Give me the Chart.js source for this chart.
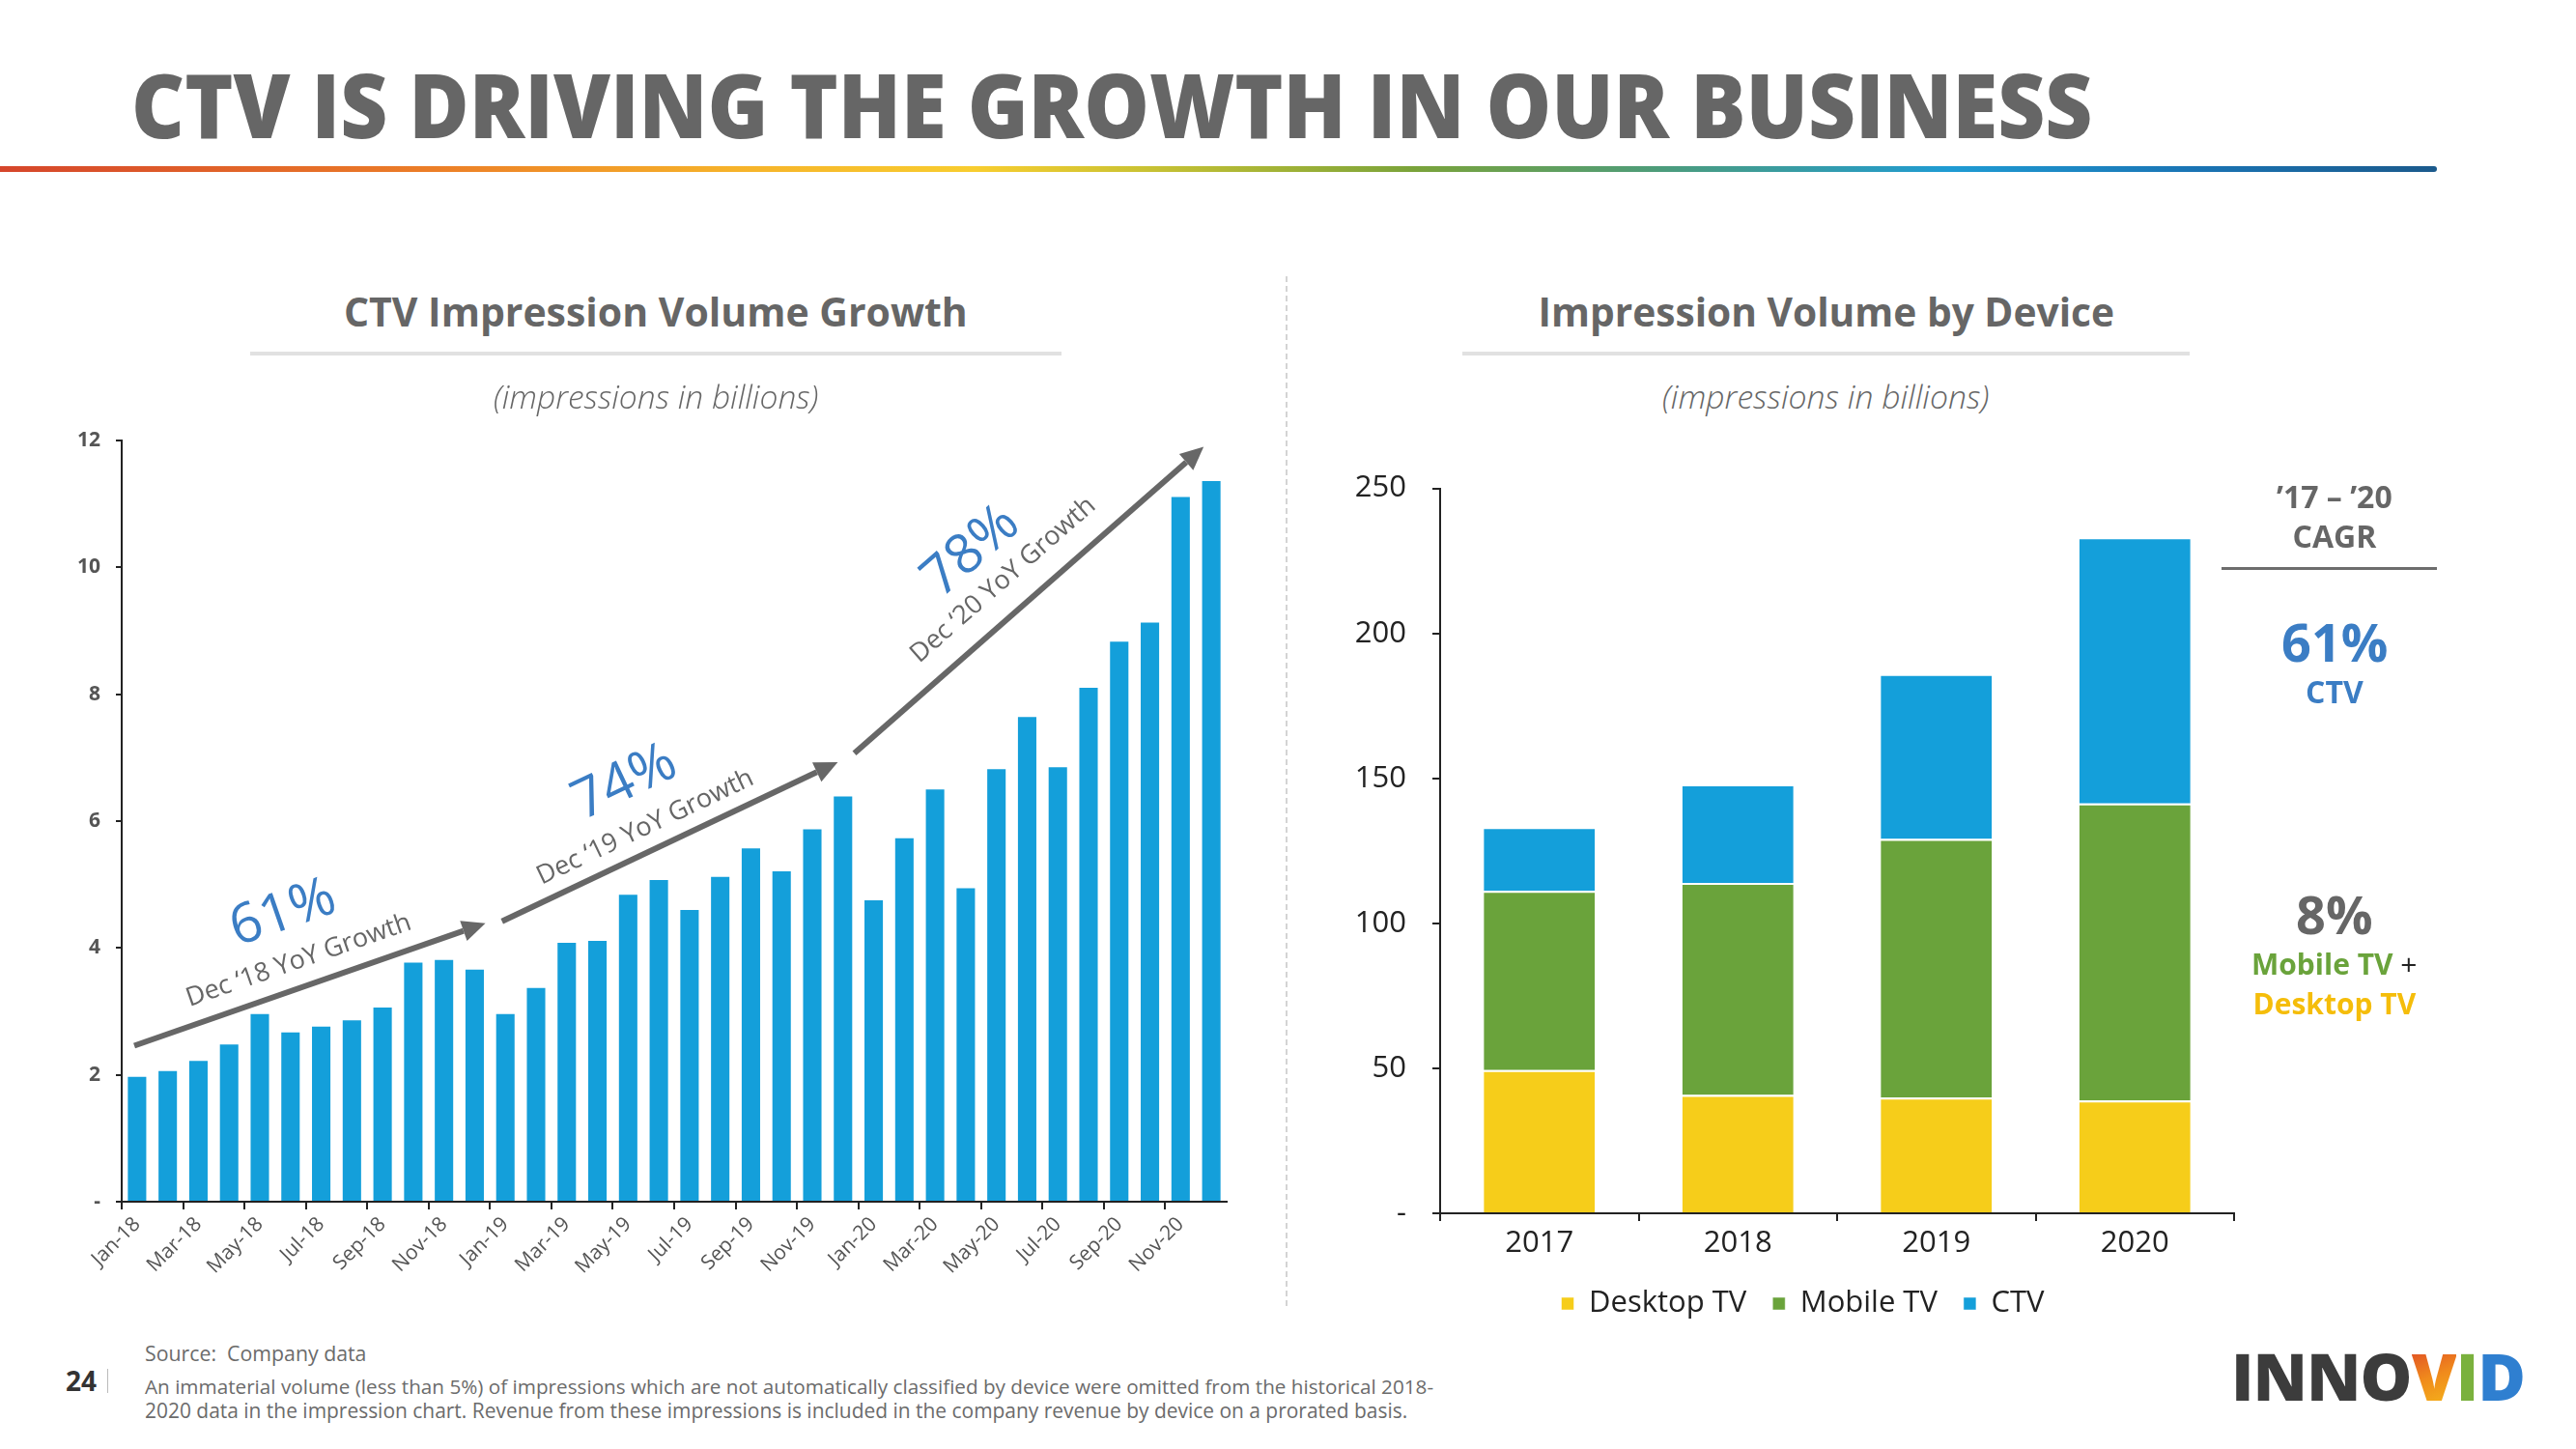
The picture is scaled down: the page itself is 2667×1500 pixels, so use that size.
<!DOCTYPE html>
<html>
<head>
<meta charset="utf-8">
<script src="https://cdn.jsdelivr.net/npm/chart.js@4.4.1/dist/chart.umd.min.js"></script>
<style>
  html, body { margin: 0; padding: 0; background: #fff; }
  body { width: 2667px; height: 1500px; position: relative; overflow: hidden; font-family: 'Open Sans', sans-serif; color: #666; }
  .abs { position: absolute; white-space: nowrap; line-height: 1.2; display: inline-block; }
  #faixa { position: absolute; left: 0; top: 172px; width: 2523px; height: 6px; border-radius: 0 3px 3px 0;
    background: linear-gradient(90deg, #d5452b 0%, #ec7f27 18%, #f6b22a 30%, #f8cd2f 40%, #c9c233 47%, #7aa33a 58%, #4d9c7a 68%, #1f9bd3 80%, #1a74b4 90%, #1b5a8c 100%); }
  .linha-cab { position: absolute; height: 4px; background: #e1e1e1; }
  #divisor { position: absolute; left: 1331px; top: 286px; height: 1066px; border-left: 2px dashed #d4d4d4; }
  #linha-cagr { position: absolute; left: 2300px; top: 587px; width: 223px; height: 3px; background: #6d6d6d; }
  #sep-pagina { position: absolute; left: 111px; top: 1417px; width: 1px; height: 25px; background: #bbb; }
  canvas { position: absolute; }
</style>
</head>
<body>
<div id="faixa"></div>
<div class="linha-cab" style="left:259px; top:364px; width:840px;"></div>
<div class="linha-cab" style="left:1514px; top:364px; width:753px;"></div>
<div id="divisor"></div>
<div id="linha-cagr"></div>
<div id="sep-pagina"></div>
<canvas id="grafico-ctv" width="1260" height="940" style="left:40px; top:420px; width:1260px; height:940px;"></canvas>
<canvas id="grafico-dispositivo" width="1000" height="915" style="left:1400px; top:460px; width:1000px; height:915px;"></canvas>
<script>
// === Dados ===
const meses = ['Jan-18', 'Feb-18', 'Mar-18', 'Apr-18', 'May-18', 'Jun-18', 'Jul-18', 'Aug-18', 'Sep-18', 'Oct-18', 'Nov-18', 'Dec-18',
  'Jan-19', 'Feb-19', 'Mar-19', 'Apr-19', 'May-19', 'Jun-19', 'Jul-19', 'Aug-19', 'Sep-19', 'Oct-19', 'Nov-19', 'Dec-19',
  'Jan-20', 'Feb-20', 'Mar-20', 'Apr-20', 'May-20', 'Jun-20', 'Jul-20', 'Aug-20', 'Sep-20', 'Oct-20', 'Nov-20', 'Dec-20'];
const impressoesCtv = [1.97, 2.06, 2.22, 2.48, 2.96, 2.67, 2.76, 2.86, 3.06, 3.77, 3.81, 3.66,
  2.96, 3.37, 4.08, 4.11, 4.84, 5.07, 4.60, 5.12, 5.57, 5.21, 5.87, 6.39,
  4.75, 5.73, 6.50, 4.94, 6.82, 7.64, 6.85, 8.10, 8.83, 9.13, 11.11, 11.36];
const ticksCtv = [0, 2, 4, 6, 8, 10, 12];

const anos = ['2017', '2018', '2019', '2020'];
const desktopTv = [49.4, 40.8, 39.9, 38.9];
const mobileTv = [61.8, 73.1, 89.2, 102.4];
const ctvDispositivo = [22.0, 34.0, 56.9, 91.8];
const ticksDispositivo = [0, 50, 100, 150, 200, 250];

const crescimentoPct = ['61%', '74%', '78%'];
const crescimentoTxt = ['Dec \u201818 YoY Growth', 'Dec \u201819 YoY Growth', 'Dec \u201820 YoY Growth'];

// posicao das setas e textos (em unidades do grafico: indice do mes, bilhoes)
const setas = [
  { de: [-0.09, 2.46], ate: [11.35, 4.39], pct: [4.76, 4.54], txt: [5.27, 3.80] },
  { de: [11.89, 4.42], ate: [22.83, 6.93], pct: [15.89, 6.60], txt: [16.56, 5.90] },
  { de: [23.37, 7.07], ate: [34.75, 11.90], pct: [27.18, 10.25], txt: [28.22, 9.80] }
];

const FONTE = "'Open Sans', sans-serif";
Chart.defaults.font.family = FONTE;

// === Textos da pagina ===
function colocarTexto(html, o) {
  const el = document.createElement('span');
  el.className = 'abs';
  el.innerHTML = html;
  Object.assign(el.style, o.estilo || {});
  document.body.appendChild(el);
  if (o.largura) {
    const fs = parseFloat(getComputedStyle(el).fontSize);
    el.style.fontSize = (fs * o.largura / el.offsetWidth) + 'px';
  }
  if (o.esticar) {
    el.style.transformOrigin = 'left center';
    el.style.transform = 'scaleX(' + (o.esticar / el.offsetWidth) + ')';
  }
  const w = el.offsetWidth, h = el.offsetHeight;
  el.style.left = (o.cx !== undefined ? o.cx - w / 2 : o.x) + 'px';
  el.style.top = (o.cy - h / 2) + 'px';
  return el;
}

colocarTexto('CTV IS DRIVING THE GROWTH IN OUR BUSINESS', { x: 136, cy: 108, esticar: 2030,
  estilo: { fontSize: '92px', fontWeight: '800', color: '#666', lineHeight: '1.2' } });

colocarTexto('CTV Impression Volume Growth', { cx: 679, cy: 322, largura: 646, estilo: { fontSize: '42px', fontWeight: '700', color: '#666' } });
colocarTexto('Impression Volume by Device', { cx: 1891, cy: 322, largura: 597, estilo: { fontSize: '42px', fontWeight: '700', color: '#666' } });
colocarTexto('(impressions in billions)', { cx: 679, cy: 410, largura: 337, estilo: { fontSize: '30px', fontStyle: 'italic', fontWeight: '300', color: '#666' } });
colocarTexto('(impressions in billions)', { cx: 1890, cy: 410, largura: 339, estilo: { fontSize: '30px', fontStyle: 'italic', fontWeight: '300', color: '#666' } });

// bloco CAGR
const cagrX = 2417;
colocarTexto('\u201917 \u2013 \u201920', { cx: cagrX, cy: 514, estilo: { fontSize: '32px', fontWeight: '700', color: '#666' } });
colocarTexto('CAGR', { cx: cagrX, cy: 555, estilo: { fontSize: '32px', fontWeight: '700', color: '#666' } });
colocarTexto('61%', { cx: cagrX, cy: 664, estilo: { fontSize: '54px', fontWeight: '700', color: '#3b7dc4' } });
colocarTexto('CTV', { cx: cagrX, cy: 716, estilo: { fontSize: '32px', fontWeight: '700', color: '#3b7dc4' } });
colocarTexto('8%', { cx: cagrX, cy: 946, estilo: { fontSize: '54px', fontWeight: '700', color: '#666' } });
colocarTexto('<span style="color:#6aa33b;font-weight:700">Mobile TV</span> <span style="color:#222">+</span>', { cx: cagrX, cy: 998, estilo: { fontSize: '30px' } });
colocarTexto('Desktop TV', { cx: cagrX, cy: 1039, estilo: { fontSize: '30px', fontWeight: '700', color: '#f5bd0a' } });

// rodape
colocarTexto('24', { x: 68, cy: 1430, estilo: { fontSize: '28px', fontWeight: '700', color: '#333' } });
colocarTexto('Source:&nbsp; Company data', { x: 150, cy: 1401, largura: 229, estilo: { fontSize: '20px', color: '#6b6b6b' } });
colocarTexto('An immaterial volume (less than 5%) of impressions which are not automatically classified by device were omitted from the historical 2018-',
  { x: 150, cy: 1435, largura: 1335, estilo: { fontSize: '20px', color: '#6b6b6b' } });
colocarTexto('2020 data in the impression chart. Revenue from these impressions is included in the company revenue by device on a prorated basis.',
  { x: 150, cy: 1460, largura: 1308, estilo: { fontSize: '20px', color: '#6b6b6b' } });

// logo
colocarTexto('<span style="color:#3c3c3c">INNO</span><span style="background:linear-gradient(160deg,#d8312a 0%,#f08a1c 50%,#f7c61a 100%);-webkit-background-clip:text;background-clip:text;color:transparent">V</span><span style="color:#7ab13d">I</span><span style="color:#2f7fd0">D</span>',
  { x: 2310, cy: 1424, largura: 304, estilo: { fontSize: '66px', fontWeight: '800', letterSpacing: '-1px' } });

// === Setas de crescimento ===
function textoGirado(ctx, texto, x, y, ang, tamanho, alvo, peso, cor) {
  ctx.save();
  ctx.font = peso + ' ' + tamanho + 'px ' + FONTE;
  const w = ctx.measureText(texto).width;
  ctx.font = peso + ' ' + (tamanho * alvo / w) + 'px ' + FONTE;
  ctx.translate(x, y);
  ctx.rotate(ang);
  ctx.fillStyle = cor;
  ctx.textAlign = 'center';
  ctx.textBaseline = 'middle';
  ctx.fillText(texto, 0, 0);
  ctx.restore();
}

const setasCrescimento = {
  id: 'setasCrescimento',
  afterDatasetsDraw(chart) {
    const { ctx, scales: { x, y } } = chart;
    setas.forEach((s, i) => {
      const x0 = x.getPixelForValue(s.de[0]), y0 = y.getPixelForValue(s.de[1]);
      const x1 = x.getPixelForValue(s.ate[0]), y1 = y.getPixelForValue(s.ate[1]);
      const ang = Math.atan2(y1 - y0, x1 - x0);
      const cab = 24, larg = 11;
      const bx = x1 - cab * Math.cos(ang), by = y1 - cab * Math.sin(ang);
      ctx.save();
      ctx.strokeStyle = '#676767';
      ctx.fillStyle = '#676767';
      ctx.lineWidth = 6;
      ctx.beginPath();
      ctx.moveTo(x0, y0);
      ctx.lineTo(bx, by);
      ctx.stroke();
      ctx.beginPath();
      ctx.moveTo(x1, y1);
      ctx.lineTo(bx + larg * Math.sin(ang), by - larg * Math.cos(ang));
      ctx.lineTo(bx - larg * Math.sin(ang), by + larg * Math.cos(ang));
      ctx.closePath();
      ctx.fill();
      ctx.restore();

      textoGirado(ctx, crescimentoPct[i], x.getPixelForValue(s.pct[0]), y.getPixelForValue(s.pct[1]), ang, 54, 112, '400', '#3b7dc4');
      textoGirado(ctx, crescimentoTxt[i], x.getPixelForValue(s.txt[0]), y.getPixelForValue(s.txt[1]), ang, 25, 245, '400', '#666');
    });
  }
};

// legenda um pouco deslocada para a direita, como no slide
const deslocaLegenda = {
  id: 'deslocaLegenda',
  afterLayout(chart) {
    chart.legend.left += 10;
    chart.legend.right += 10;
  }
};

// === Grafico CTV mensal ===
new Chart(document.getElementById('grafico-ctv'), {
  type: 'bar',
  data: {
    labels: meses,
    datasets: [{ data: impressoesCtv, backgroundColor: '#149fda', barPercentage: 0.6, categoryPercentage: 1 }]
  },
  options: {
    responsive: false,
    animation: false,
    layout: { padding: { top: 36, right: 30, left: 0, bottom: 0 } },
    plugins: { legend: { display: false }, tooltip: { enabled: false } },
    scales: {
      x: {
        afterFit: s => { s.height = 116; },
        grid: { offset: true, drawOnChartArea: false, tickLength: 8, lineWidth: 2,
          color: c => c.index % 2 === 0 ? '#222' : 'rgba(0,0,0,0)' },
        border: { color: '#222', width: 2 },
        ticks: {
          autoSkip: false, maxRotation: 45, minRotation: 45, padding: 3, color: '#555',
          font: { size: 21 },
          callback: function (v, i) { return i % 2 === 0 ? this.getLabelForValue(v) : ''; }
        }
      },
      y: {
        min: ticksCtv[0],
        max: ticksCtv[ticksCtv.length - 1],
        afterFit: s => { s.width = 86; },
        grid: { drawOnChartArea: false, tickLength: 6, color: '#222', lineWidth: 2 },
        border: { color: '#222', width: 2 },
        ticks: {
          stepSize: ticksCtv[1] - ticksCtv[0], padding: 16, color: '#555',
          font: { size: 21, weight: 'bold' },
          callback: v => v === 0 ? '-' : v
        }
      }
    }
  },
  plugins: [setasCrescimento]
});

// === Grafico por dispositivo ===
new Chart(document.getElementById('grafico-dispositivo'), {
  type: 'bar',
  data: {
    labels: anos,
    datasets: [
      { label: 'Desktop TV', data: desktopTv, backgroundColor: '#f6cd1a' },
      { label: 'Mobile TV', data: mobileTv, backgroundColor: '#6aa33b' },
      { label: 'CTV', data: ctvDispositivo, backgroundColor: '#149fda' }
    ]
  },
  options: {
    responsive: false,
    animation: false,
    datasets: { bar: { barPercentage: 0.56, categoryPercentage: 1, borderColor: '#fff', borderWidth: { top: 2 } } },
    layout: { padding: { top: 38, right: 87, left: 0, bottom: 0 } },
    plugins: {
      tooltip: { enabled: false },
      legend: {
        position: 'bottom',
        labels: { boxWidth: 13, boxHeight: 13, padding: 27, color: '#222', font: { size: 31 } }
      }
    },
    scales: {
      x: {
        stacked: true,
        afterFit: s => { s.height = 51; },
        grid: { offset: true, drawOnChartArea: false, tickLength: 8, lineWidth: 2, color: '#222' },
        border: { color: '#222', width: 2 },
        ticks: { padding: 5, color: '#222', font: { size: 31 } }
      },
      y: {
        stacked: true,
        min: ticksDispositivo[0],
        max: ticksDispositivo[ticksDispositivo.length - 1],
        afterFit: s => { s.width = 91; },
        grid: { drawOnChartArea: false, tickLength: 8, color: '#222', lineWidth: 2 },
        border: { color: '#222', width: 2 },
        ticks: {
          stepSize: ticksDispositivo[1] - ticksDispositivo[0], padding: 27, color: '#222',
          font: { size: 31 },
          callback: v => v === 0 ? '-' : v
        }
      }
    }
  },
  plugins: [deslocaLegenda]
});
</script>
</body>
</html>
